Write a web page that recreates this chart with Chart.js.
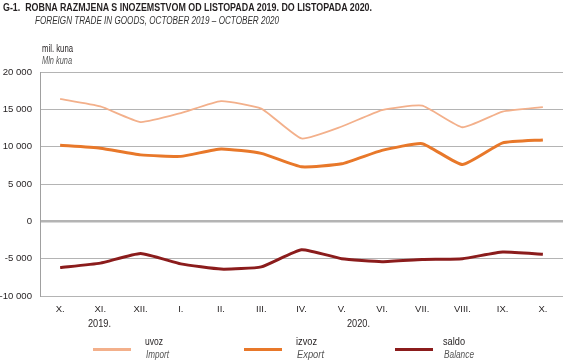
<!DOCTYPE html>
<html><head><meta charset="utf-8">
<script src="https://cdn.jsdelivr.net/npm/chart.js@4/dist/chart.umd.min.js"></script>
<style>
html,body{margin:0;padding:0;background:#fff;}
#wrap{position:relative;width:563px;height:362px;overflow:hidden;font-family:"Liberation Sans",Arial,sans-serif;color:#231f20;}
canvas{position:absolute;left:0;top:0;}
.t{position:absolute;white-space:nowrap;transform-origin:0 0;line-height:1;}
.i{font-style:italic;color:#555;}
.ln{position:absolute;}
</style></head><body>
<div id="wrap">
<canvas id="c" width="563" height="362"></canvas>
<div class="t" data-w="369" style="left:3px;top:2px;font-size:11.5px;font-weight:bold;">G-1.&nbsp;&nbsp;ROBNA RAZMJENA S INOZEMSTVOM OD LISTOPADA 2019. DO LISTOPADA 2020.</div>
<div class="t i" data-w="244" style="left:35px;top:15px;font-size:11px;color:#333;">FOREIGN TRADE IN GOODS, OCTOBER 2019 – OCTOBER 2020</div>
<div class="t" data-w="31" style="left:42px;top:44px;font-size:10px;">mil. kuna</div>
<div class="t i" data-w="30" style="left:42px;top:55.5px;font-size:10px;">Mln kuna</div>
<div class="t" data-w="23" style="left:88px;top:318.5px;font-size:10px;">2019.</div>
<div class="t" data-w="23" style="left:347px;top:318.5px;font-size:10px;">2020.</div>
<div id="leg"></div>
</div>
<script>
const categories = ["X.","XI.","XII.","I.","II.","III.","IV.","V.","VI.","VII.","VIII.","IX.","X."];
const importValues = [16400,15400,13300,14500,16100,15100,11100,12700,14900,15500,12600,14700,15300];
const exportValues = [10200,9800,8900,8700,9700,9100,7300,7700,9500,10400,7600,10500,10900];
const balanceValues = [-6200,-5600,-4300,-5700,-6400,-6100,-3800,-5000,-5400,-5100,-5000,-4100,-4400];
const seriesNames = ["uvoz","izvoz","saldo"];
const seriesNamesEn = ["Import","Export","Balance"];
const seriesColors = ["#f3b08b","#e8782a","#8b1c1c"];
const seriesWidths = [1.8,3,3];
const yTicks = [20000,15000,10000,5000,0,-5000,-10000];

// legend (HTML)
const leg = document.getElementById('leg');
const legX = [93,244,395];
const legTX = [145,296,443];
const legTW = [[18,23],[21,27],[22,30]];
seriesNames.forEach((n,i)=>{
  const l=document.createElement('div');l.className='ln';
  l.style.cssText=`left:${legX[i]}px;top:348px;width:38px;height:3px;background:${seriesColors[i]}`;
  leg.appendChild(l);
  const a=document.createElement('div');a.className='t';a.dataset.w=legTW[i][0];a.style.cssText=`left:${legTX[i]}px;top:337px;font-size:10px;`;a.textContent=n;leg.appendChild(a);
  const b=document.createElement('div');b.className='t i';b.dataset.w=legTW[i][1];b.style.cssText=`left:${legTX[i]+1}px;top:349.5px;font-size:10px;`;b.textContent=seriesNamesEn[i];leg.appendChild(b);
});
document.querySelectorAll('.t[data-w]').forEach(el=>{
  const w=el.getBoundingClientRect().width; const tw=+el.dataset.w;
  if(w>0) el.style.transform=`scaleX(${Math.min(1,tw/w)})`;
});

const fmt = v => { const s=Math.abs(v).toString().replace(/\B(?=(\d{3})+(?!\d))/g,' '); return (v<0?'-':'')+s; };
const FONT='"Liberation Sans",Arial,sans-serif';

new Chart(document.getElementById('c'),{
  type:'line',
  data:{labels:categories,datasets:[
    {label:seriesNames[0],data:importValues,borderColor:seriesColors[0],borderWidth:seriesWidths[0],pointRadius:0,tension:0.15,fill:false},
    {label:seriesNames[1],data:exportValues,borderColor:seriesColors[1],borderWidth:seriesWidths[1],pointRadius:0,tension:0.15,fill:false},
    {label:seriesNames[2],data:balanceValues,borderColor:seriesColors[2],borderWidth:seriesWidths[2],pointRadius:0,tension:0.15,fill:false}
  ]},
  options:{
    responsive:false,animation:false,devicePixelRatio:1,
    layout:{padding:{top:72,bottom:46,left:0,right:0}},
    plugins:{legend:{display:false},tooltip:{enabled:false}},
    scales:{
      x:{offset:true,grid:{display:false},border:{display:false},
        ticks:{color:'#231f20',font:{family:FONT,size:9.5},padding:0,maxRotation:0,autoSkip:false},
        afterFit:s=>{s.height=20;}},
      y:{min:-10000,max:20000,
        afterBuildTicks:s=>{s.ticks=yTicks.map(v=>({value:v}));},
        grid:{drawTicks:false,color:'#b4b4b4',lineWidth:c=>c.tick&&c.tick.value===0?2.5:1},
        border:{display:true,color:'#a0a0a0',width:1},
        ticks:{color:'#231f20',padding:8,font:{family:FONT,size:9.6},callback:v=>fmt(v)},
        afterFit:s=>{s.width=40;}}
    }
  }
});
</script>
</body></html>
